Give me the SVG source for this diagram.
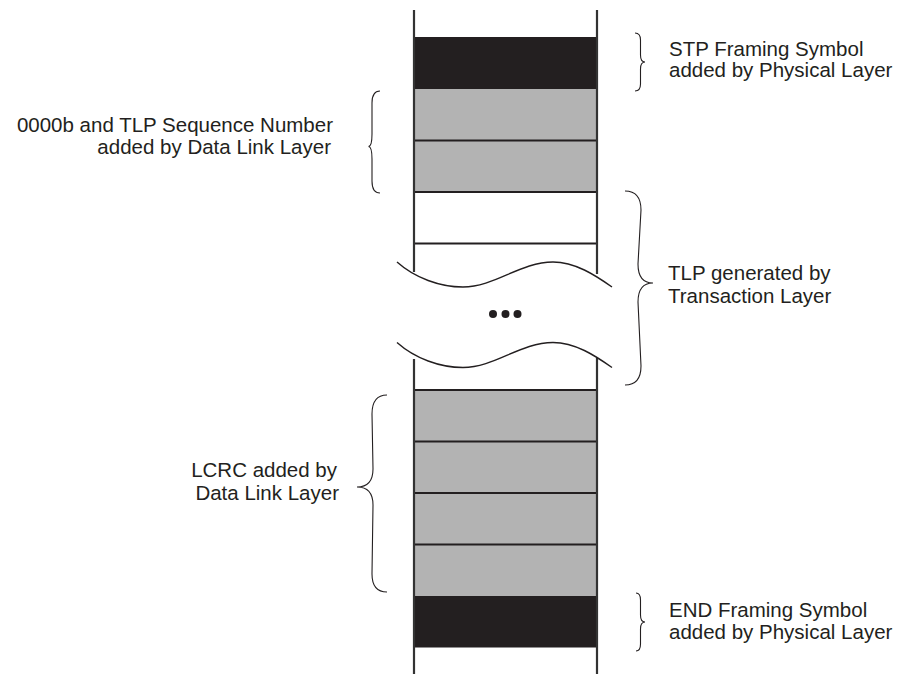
<svg xmlns="http://www.w3.org/2000/svg" width="900" height="675" viewBox="0 0 900 675">
<style>
  .blk{fill:#231f20}
  .gry{fill:#b3b3b3}
  .div{stroke:#231f20;stroke-width:2;fill:none}
  .side{stroke:#333;stroke-width:2.2;fill:none}
  .wave{stroke:#231f20;stroke-width:1.4;fill:none}
  .brace{stroke:#231f20;stroke-width:1.1;fill:none}
  .lbl{font-family:"Liberation Sans",Arial,sans-serif;font-size:20.5px;fill:#231f20}
  .r{text-anchor:end}
</style>
<rect width="900" height="675" fill="#fff"/>
<g id="cells">
  <g id="stp"><rect class="blk" x="414" y="37" width="183" height="52"/></g>
  <g id="seq1"><rect class="gry" x="414" y="89" width="183" height="51.5"/></g>
  <g id="seq2"><rect class="gry" x="414" y="140.5" width="183" height="51.5"/></g>
  <g id="tlp1"><rect x="414" y="192" width="183" height="51.5" fill="#fff"/></g>
  <g id="lcrc1"><rect class="gry" x="414" y="390" width="183" height="51.5"/></g>
  <g id="lcrc2"><rect class="gry" x="414" y="441.5" width="183" height="51.5"/></g>
  <g id="lcrc3"><rect class="gry" x="414" y="493" width="183" height="51.5"/></g>
  <g id="lcrc4"><rect class="gry" x="414" y="544.5" width="183" height="51.5"/></g>
  <g id="end"><rect class="blk" x="414" y="596" width="183" height="51.5"/></g>
  <g id="dividers">
    <line class="div" x1="414" y1="140.5" x2="597" y2="140.5"/>
    <line class="div" x1="414" y1="192" x2="597" y2="192"/>
    <line class="div" x1="414" y1="243.5" x2="597" y2="243.5"/>
    <line class="div" x1="414" y1="390" x2="597" y2="390"/>
    <line class="div" x1="414" y1="441.5" x2="597" y2="441.5"/>
    <line class="div" x1="414" y1="493" x2="597" y2="493"/>
    <line class="div" x1="414" y1="544.5" x2="597" y2="544.5"/>
  </g>
  <g id="sides">
    <line class="side" x1="414" y1="10" x2="414" y2="272"/>
    <line class="side" x1="597" y1="10" x2="597" y2="274"/>
    <line class="side" x1="414" y1="359" x2="414" y2="674"/>
    <line class="side" x1="597" y1="358" x2="597" y2="674"/>
  </g>
  <g id="break">
    <path class="wave" d="M397,262 C415,278 440,287 463,287 C495,287 520,262 553,262 C575,262 595,275 612,287"/>
    <path class="wave" d="M397,342.5 C415,358.5 440,367.5 463,367.5 C495,367.5 520,342.5 553,342.5 C575,342.5 595,355.5 612,367.5"/>
    <circle class="blk" cx="493" cy="314" r="4"/>
    <circle class="blk" cx="505.5" cy="314" r="4"/>
    <circle class="blk" cx="517.5" cy="314" r="4"/>
  </g>
</g>
<g id="braces">
  <path id="brace-stp" class="brace" d="M635,33 Q640.5,33 640.5,40 L640.5,55 Q640.5,62 645,62 Q640.5,62 640.5,69 L640.5,84 Q640.5,91 635,91"/>
  <path id="brace-tlp" class="brace" d="M625,191 Q641,191 641,210 L638,264 Q638,283 653,283 Q638,283 638,302 L641,366 Q641,385 625,385"/>
  <path id="brace-end" class="brace" d="M636,593 Q640.5,593 640.5,600 L640.5,615 Q640.5,622 645,622 Q640.5,622 640.5,629 L640.5,644 Q640.5,651 636,651"/>
  <path id="brace-seq" class="brace" d="M380,91 Q372,91 372,103 L372,134 Q372,146.5 368.5,146.5 Q372,146.5 372,159 L372,181 Q372,193 380,193"/>
  <path id="brace-lcrc" class="brace" d="M387,395 Q372,395 372,414 L373,469 Q373,487 357,487 Q373,487 373,505 L372,574 Q372,592 387,592"/>
</g>
<g id="labels">
  <text class="lbl" x="669" y="55.5">STP Framing Symbol</text>
  <text class="lbl" x="669" y="77">added by Physical Layer</text>
  <text class="lbl r" x="333" y="131.5">0000b and TLP Sequence Number</text>
  <text class="lbl r" x="331" y="153.5">added by Data Link Layer</text>
  <text class="lbl" x="668" y="280">TLP generated by</text>
  <text class="lbl" x="668" y="303">Transaction Layer</text>
  <text class="lbl r" x="337" y="477">LCRC added by</text>
  <text class="lbl r" x="339" y="499.5">Data Link Layer</text>
  <text class="lbl" x="669" y="617">END Framing Symbol</text>
  <text class="lbl" x="669" y="639">added by Physical Layer</text>
</g>
</svg>
